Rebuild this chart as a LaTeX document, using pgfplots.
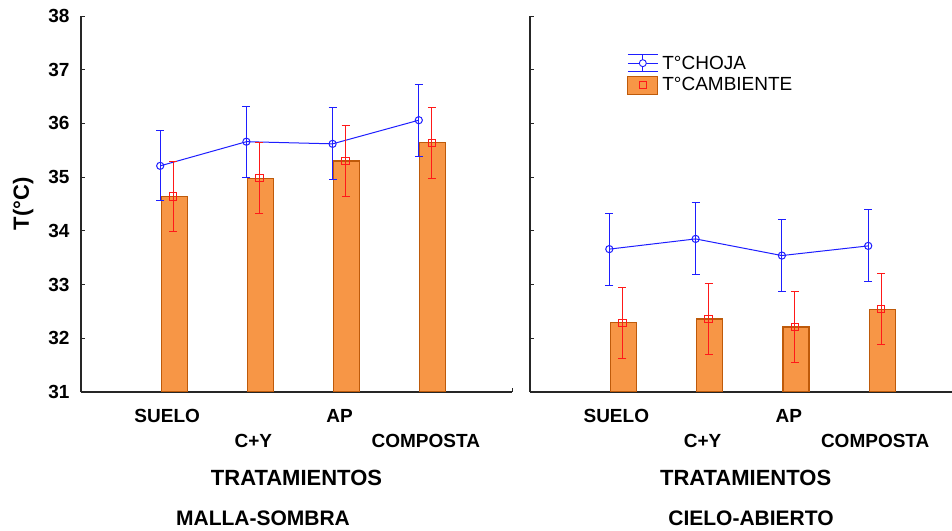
\documentclass[border=0pt]{standalone}
\usepackage{pgfplots}
\pgfplotsset{compat=1.18}
\usepackage{pgfplotstable}
\usepackage{fontspec}
\setmainfont{Liberation Sans}
\definecolor{barorange}{RGB}{247,150,70}
\definecolor{bardark}{RGB}{190,90,10}
\definecolor{lineblue}{RGB}{30,30,255}
\definecolor{linered}{RGB}{255,25,25}

\pgfplotstableread{
x y e
1 35.21 0.65
2 35.66 0.66
3 35.62 0.67
4 36.06 0.67
}\leftblue
\pgfplotstableread{
x y e
1 34.64 0.66
2 34.98 0.66
3 35.30 0.66
4 35.64 0.66
}\leftred
\pgfplotstableread{
x y e
1 33.66 0.67
2 33.85 0.67
3 33.54 0.67
4 33.72 0.67
}\rightblue
\pgfplotstableread{
x y e
1 32.29 0.66
2 32.36 0.66
3 32.21 0.66
4 32.54 0.66
}\rightred

\pgfplotsset{
  panel/.style={
    scale only axis, height=376bp, ymin=31, ymax=38, xmin=0,
    anchor=south west,
    axis x line*=bottom, axis y line*=left,
    axis line style={-, line width=1.1bp, black!85},
    tick align=inside, major tick length=4bp,
    tick style={line width=0.9bp, black!85},
    ytick={31,...,38},
    xtick={1,3,5}, xticklabels={SUELO,AP,{}},
    extra x ticks={2,4}, extra x tick labels={C+Y,COMPOSTA},
    extra x tick style={xticklabel style={yshift=-25bp}},
    ticklabel style={font=\bfseries\fontsize{19bp}{22bp}\selectfont},
    /pgf/number format/assume math mode=true,
    xticklabel style={yshift=-14bp},
    yticklabel style={xshift=-8bp},
    xlabel style={font=\bfseries\fontsize{22bp}{26bp}\selectfont, anchor=base, yshift=-93bp},
  },
  bluepl/.style={lineblue, line width=1bp, mark=o, mark size=3.6bp, xshift=-7bp,
    mark options={solid, fill=white},
    error bars/.cd, y dir=both, y explicit,
    error bar style={line width=1bp, lineblue},
    error mark options={rotate=90, mark size=4bp, line width=1bp, lineblue},
    /pgfplots/.cd},
  redpl/.style={linered, only marks, mark=square, mark size=3.7bp, xshift=6bp,
    mark options={solid, line width=1bp},
    error bars/.cd, y dir=both, y explicit,
    error bar style={line width=1bp, linered},
    error mark options={rotate=90, mark size=4bp, line width=1bp, linered},
    /pgfplots/.cd},
  barpl/.style={ybar, bar width=26bp, bar shift=7bp, fill=barorange, draw=bardark, line width=1.2bp},
}

\begin{document}
\begin{tikzpicture}
\useasboundingbox (0,0) rectangle (952bp,531bp);
\begin{axis}[panel, at={(81bp,139bp)}, width=431bp, xmax=5,
  ylabel={T(°C)},
  ylabel style={font=\bfseries\fontsize{22bp}{26bp}\selectfont},
  ylabel shift=8bp,
  xlabel={TRATAMIENTOS},
  xlabel style={at={(axis description cs:0.5,0)}},
]
\addplot[forget plot, barpl] table[x=x, y=y]{\leftred};
\addplot[forget plot, bluepl] table[x=x, y=y, y error=e]{\leftblue};
\addplot[forget plot, redpl] table[x=x, y=y, y error=e]{\leftred};
\end{axis}
\begin{axis}[panel, at={(530bp,139bp)}, width=422bp, xmax=4.89,
  yticklabel style={text opacity=0},
  xlabel={TRATAMIENTOS},
  xlabel style={at={(axis description cs:0.511,0)}},
  legend style={at={(0.23,0.90)}, anchor=north west, draw=none, fill=none,
    font=\fontsize{19bp}{22bp}\selectfont, row sep=3bp, inner sep=0pt,
    nodes={inner xsep=4bp}},
  legend cell align=left,
]
\addplot[forget plot, barpl] table[x=x, y=y]{\rightred};
\addplot[forget plot, bluepl] table[x=x, y=y, y error=e]{\rightblue};
\addplot[forget plot, redpl] table[x=x, y=y, y error=e]{\rightred};
\addlegendimage{legend image code/.code={
  \draw[lineblue, line width=0.9bp] (0bp,0bp) -- (30bp,0bp);
  \draw[lineblue, line width=0.9bp] (0bp,8.5bp) -- (30bp,8.5bp);
  \draw[lineblue, line width=0.9bp] (0bp,-8.5bp) -- (30bp,-8.5bp);
  \draw[lineblue, line width=0.9bp] (15bp,-8.5bp) -- (15bp,8.5bp);
  \draw[lineblue, line width=0.9bp, fill=white] (15bp,0bp) circle (3.5bp);
}}
\addlegendentry{T°CHOJA}
\addlegendimage{legend image code/.code={
  \draw[bardark, fill=barorange, line width=1.1bp] (0bp,-9bp) rectangle (30bp,9bp);
  \draw[linered, line width=0.9bp] (11.5bp,-3.5bp) rectangle (18.5bp,3.5bp);
}}
\addlegendentry{T°CAMBIENTE}
\end{axis}
\node[anchor=base, font=\bfseries\fontsize{21bp}{25bp}\selectfont] at (263bp,6bp) {MALLA-SOMBRA};
\node[anchor=base, font=\bfseries\fontsize{21bp}{25bp}\selectfont] at (751bp,6bp) {CIELO-ABIERTO};
\end{tikzpicture}
\end{document}
